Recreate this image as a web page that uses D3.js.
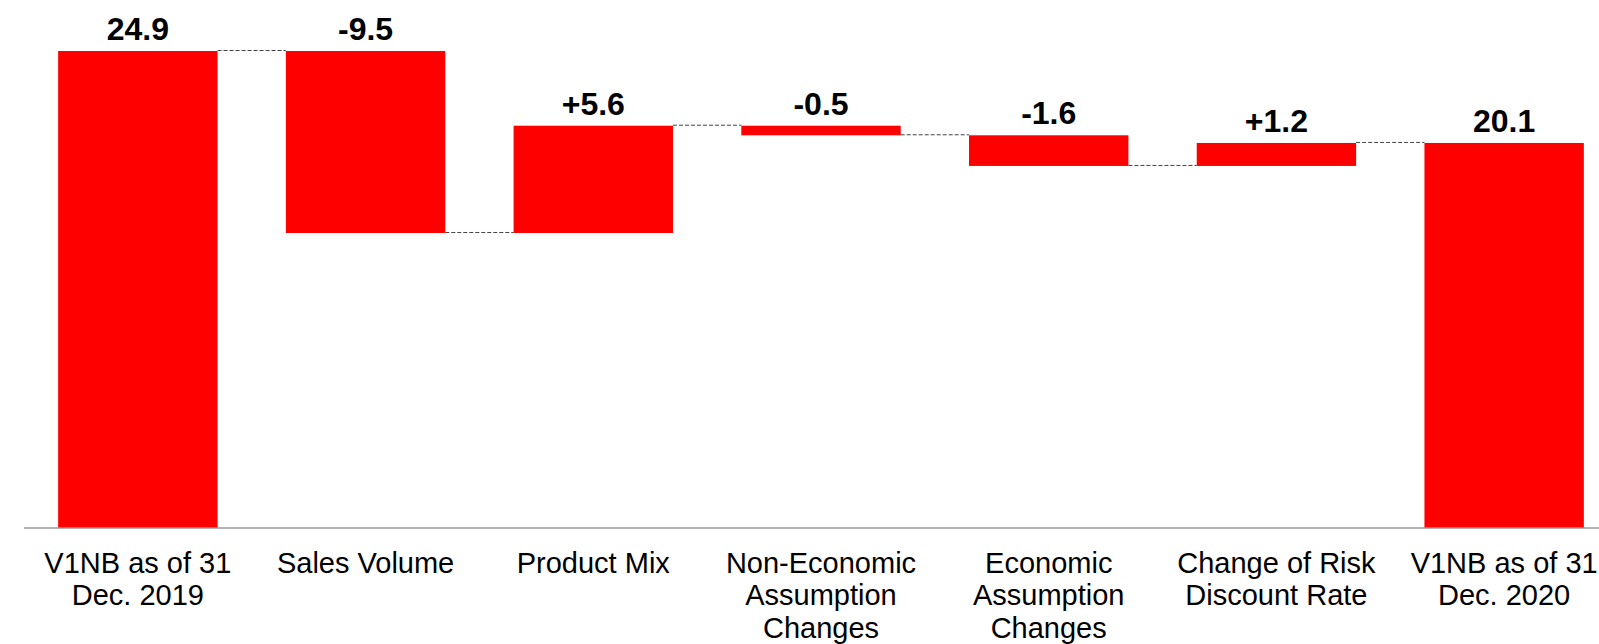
<!DOCTYPE html>
<html>
<head>
<meta charset="utf-8">
<script src="https://cdn.jsdelivr.net/npm/d3@7"></script>
<style>
  body { margin: 0; background: #fff; }
  svg { display: block; font-family: "Liberation Sans", Arial, sans-serif; }
</style>
</head>
<body>
<div id="chart"></div>
<script>
// Dane wykresu
const categories = ["start2019", "sales", "mix", "noneco", "eco", "rdr", "end2020"];
const categoryLabels = [
  ["V1NB as of 31", "Dec. 2019"],
  ["Sales Volume"],
  ["Product Mix"],
  ["Non-Economic", "Assumption", "Changes"],
  ["Economic", "Assumption", "Changes"],
  ["Change of Risk", "Discount Rate"],
  ["V1NB as of 31", "Dec. 2020"]
];
const values = [24.9, -9.5, 5.6, -0.5, -1.6, 1.2, 20.1];
const isTotal = [true, false, false, false, false, false, true];
const valueLabels = ["24.9", "-9.5", "+5.6", "-0.5", "-1.6", "+1.2", "20.1"];

function renderWaterfall(svgId) {
  const width = 1599, height = 644;
  const barColor = "#FF0000";
  const axisY = 528;

  const svg = d3.select(svgId)
    .append("svg")
    .attr("width", width)
    .attr("height", height);

  // liczymy poczatek i koniec kazdego slupka
  let running = 0;
  const bars = values.map((v, i) => {
    let y0, y1;
    if (isTotal[i]) {
      y0 = 0; y1 = v; running = v;
    } else {
      y0 = running; y1 = running + v; running = y1;
    }
    return { key: categories[i], y0, y1, label: valueLabels[i], lines: categoryLabels[i] };
  });

  const x = d3.scaleBand()
    .domain(categories)
    .range([24, 1618])
    .paddingInner(0.3)
    .paddingOuter(0.15);

  const y = d3.scaleLinear()
    .domain([0, d3.max(bars, d => Math.max(d.y0, d.y1))])
    .range([axisY, 51]);

  // linie laczace
  svg.selectAll("line.conn")
    .data(bars.slice(0, -1))
    .enter()
    .append("line")
    .attr("class", "conn")
    .attr("x1", d => x(d.key) + x.bandwidth())
    .attr("x2", (d, i) => x(categories[i + 1]))
    .attr("y1", d => y(d.y1) - 0.5)
    .attr("y2", d => y(d.y1) - 0.5)
    .attr("stroke", "#444")
    .attr("stroke-width", 1)
    .attr("stroke-dasharray", "4,2");

  svg.selectAll("rect.bar")
    .data(bars)
    .enter()
    .append("rect")
    .attr("class", "bar")
    .attr("x", d => x(d.key))
    .attr("width", x.bandwidth())
    .attr("y", d => y(Math.max(d.y0, d.y1)))
    .attr("height", d => Math.abs(y(d.y0) - y(d.y1)))
    .attr("fill", barColor);

  // os X
  svg.append("line")
    .attr("x1", 24)
    .attr("x2", width)
    .attr("y1", axisY)
    .attr("y2", axisY)
    .attr("stroke", "#999")
    .attr("stroke-width", 1.5);

  svg.selectAll("text.val")
    .data(bars)
    .enter()
    .append("text")
    .attr("class", "val")
    .attr("x", d => x(d.key) + x.bandwidth() / 2)
    .attr("y", d => y(Math.max(d.y0, d.y1)) - 11)
    .attr("text-anchor", "middle")
    .attr("font-size", "32px")
    .attr("font-weight", "bold")
    .attr("fill", "#000")
    .text(d => d.label);

  const cat = svg.selectAll("text.cat")
    .data(bars)
    .enter()
    .append("text")
    .attr("class", "cat")
    .attr("x", d => x(d.key) + x.bandwidth() / 2)
    .attr("y", 573)
    .attr("text-anchor", "middle")
    .attr("font-size", "29px")
    .attr("fill", "#000");

  cat.selectAll("tspan")
    .data(d => d.lines.map(t => ({ t, cx: x(d.key) + x.bandwidth() / 2 })))
    .enter()
    .append("tspan")
    .attr("x", d => d.cx)
    .attr("dy", (d, i) => i === 0 ? 0 : 32.3)
    .text(d => d.t);
}

renderWaterfall("#chart");
</script>
</body>
</html>
